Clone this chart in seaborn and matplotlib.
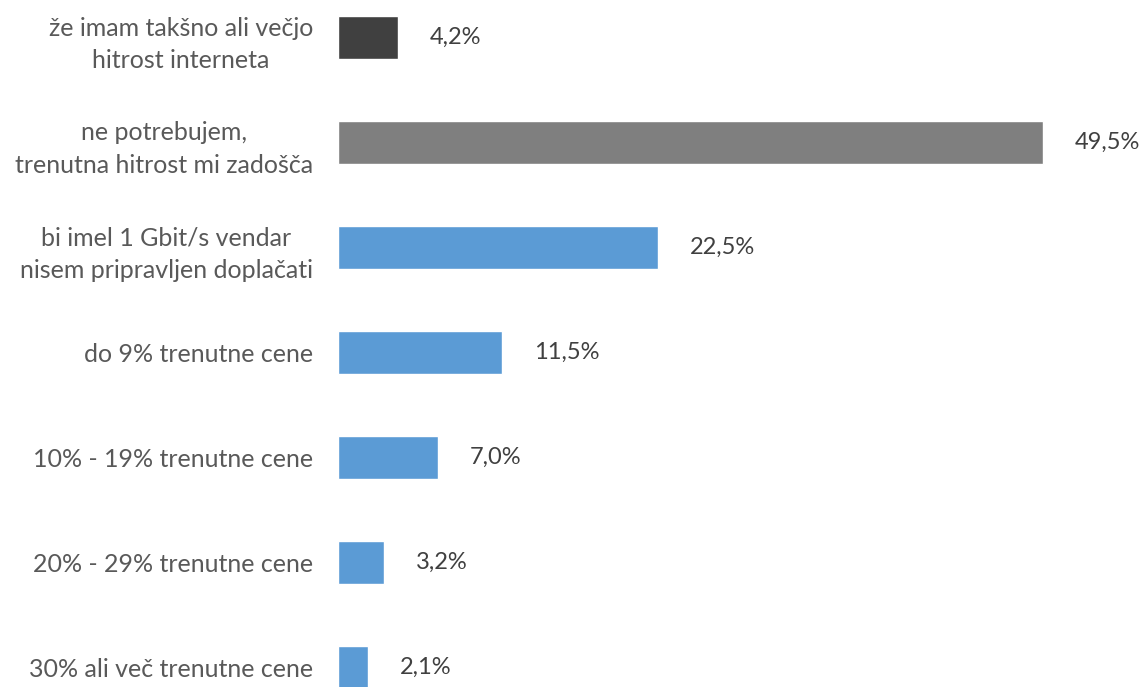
import seaborn as sns
import matplotlib.pyplot as plt

labels = [
    'že imam takšno ali večjo\nhitrost interneta',
    'ne potrebujem,\ntrenutna hitrost mi zadošča',
    'bi imel 1 Gbit/s vendar\nnisem pripravljen doplačati',
    'do 9% trenutne cene',
    '10% - 19% trenutne cene',
    '20% - 29% trenutne cene',
    '30% ali več trenutne cene',
]
values = [4.2, 49.5, 22.5, 11.5, 7.0, 3.2, 2.1]
value_text = ['4,2%', '49,5%', '22,5%', '11,5%', '7,0%', '3,2%', '2,1%']
colors = ['#404040', '#7f7f7f', '#5b9bd5', '#5b9bd5', '#5b9bd5', '#5b9bd5', '#5b9bd5']

sns.set_style('white')
plt.rcParams['font.family'] = ['Lato', 'DejaVu Sans']

fig = plt.figure(figsize=(11.46, 6.87), dpi=100)
ax = fig.add_axes([338 / 1146, 0, 808 / 1146, 1])

sns.barplot(x=values, y=labels, hue=labels, palette=colors, orient='h',
            width=0.41, legend=False, saturation=1, ax=ax)

ax.set_xlim(0, 808 / 14.24)
ax.set_ylim((687 - 37.5) / 105, -37.5 / 105)
ax.set_xticks([])
ax.set_xlabel('')
ax.set_ylabel('')
sns.despine(ax=ax, left=True, bottom=True)

ax.tick_params(axis='y', length=0, pad=18, labelsize=18, labelcolor='#595959')
plt.setp(ax.get_yticklabels(), multialignment='center', linespacing=1.5)

for i, v in enumerate(values):
    ax.annotate(value_text[i], (v, i), xytext=(23, 0), textcoords='offset points',
                va='center', ha='left', fontsize=17, color='#404040',
                annotation_clip=False)

fig.savefig('out.png', dpi=100)
